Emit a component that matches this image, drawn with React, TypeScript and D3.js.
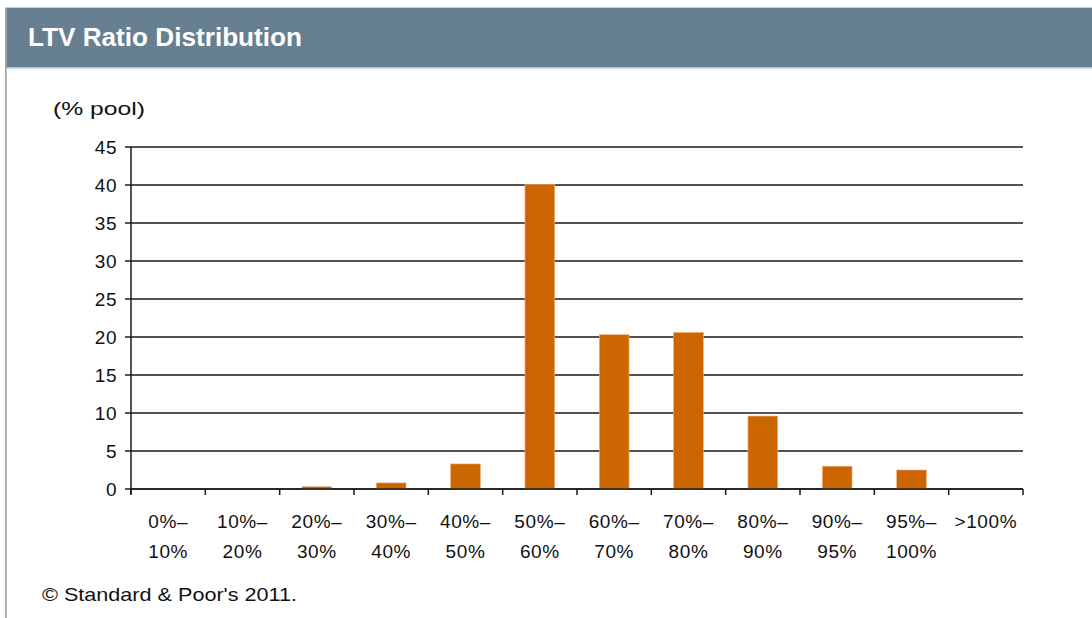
import React from 'react';
import * as d3 from 'd3';

const categories = ['0%–10%', '10%–20%', '20%–30%', '30%–40%', '40%–50%', '50%–60%', '60%–70%', '70%–80%', '80%–90%', '90%–95%', '95%–100%', '>100%'];
const labelTop = ['0%–', '10%–', '20%–', '30%–', '40%–', '50%–', '60%–', '70%–', '80%–', '90%–', '95%–', '>100%'];
const labelBottom = ['10%', '20%', '30%', '40%', '50%', '60%', '70%', '80%', '90%', '95%', '100%', ''];
const poolShare = [0, 0, 0.3, 0.8, 3.3, 40.1, 20.3, 20.6, 9.6, 3.0, 2.5, 0];
const yTicks = [0, 5, 10, 15, 20, 25, 30, 35, 40, 45];

const W = 1092;
const H = 618;
const font = 'Arial, "Liberation Sans", sans-serif';

export default function App() {
  // plot area
  const left = 131;
  const right = 1023;
  const top = 147;
  const bottom = 489;

  const x = d3.scaleBand().domain(categories).range([left, right]).paddingInner(0.6).paddingOuter(0.3);
  const xOuter = d3.scaleBand().domain(categories).range([left, right]);
  const y = d3.scaleLinear().domain([0, 45]).range([bottom, top]);

  return (
    <svg width={W} height={H} style={{ position: 'absolute', left: 0, top: 0 }} fontFamily={font}>
      <rect x={0} y={0} width={W} height={H} fill="#ffffff" />
      {/* header band */}
      <rect x={5} y={7} width={W - 5} height={1.5} fill="#c3ced6" />
      <rect x={5} y={8} width={W - 5} height={60} fill="#667f91" />
      <rect x={5} y={67} width={W - 5} height={1.5} fill="#b4c1cb" />
      <rect x={5} y={8} width={1.8} height={H - 8} fill="#9aabb8" />
      <text x={28} y={46} fill="#ffffff" fontSize={25} fontWeight="bold" textLength={274} lengthAdjust="spacingAndGlyphs">
        LTV Ratio Distribution
      </text>

      <text x={53} y={115} fontSize={19} fill="#111" textLength={92} lengthAdjust="spacingAndGlyphs">(% pool)</text>

      {/* gridlines + y labels */}
      {yTicks.map((t) => (
        <g key={t}>
          <line x1={left - 6} x2={right} y1={y(t)} y2={y(t)} stroke="#1a1a1a" strokeWidth={1.5} />
          <text x={117} y={y(t) + 7} textAnchor="end" fontSize={19} letterSpacing={0.5} fill="#111">{t}</text>
        </g>
      ))}
      <line x1={left} x2={left} y1={top} y2={bottom + 5} stroke="#1a1a1a" strokeWidth={1.5} />

      {/* x ticks */}
      {categories.map((c) => (
        <line key={c} x1={xOuter(c)!} x2={xOuter(c)!} y1={bottom} y2={bottom + 6} stroke="#1a1a1a" strokeWidth={1.5} />
      ))}
      <line x1={right} x2={right} y1={bottom} y2={bottom + 6} stroke="#1a1a1a" strokeWidth={1.5} />

      {/* bars */}
      {categories.map((c, i) =>
        poolShare[i] > 0 ? (
          <rect key={c} x={x(c)!} y={y(poolShare[i])} width={x.bandwidth()} height={bottom - y(poolShare[i])} fill="#cc6600" stroke="#f0b080" strokeWidth={0.6} />
        ) : null
      )}
      <line x1={left} x2={right} y1={bottom} y2={bottom} stroke="#1a1a1a" strokeWidth={1.5} />

      {/* category labels */}
      {categories.map((c, i) => {
        const cx = xOuter(c)! + xOuter.bandwidth() / 2;
        return (
          <g key={c}>
            <text x={cx} y={528} textAnchor="middle" fontSize={19} letterSpacing={0.6} fill="#111">{labelTop[i]}</text>
            <text x={cx} y={558} textAnchor="middle" fontSize={19} letterSpacing={0.6} fill="#111">{labelBottom[i]}</text>
          </g>
        );
      })}

      <text x={42} y={601} fontSize={19} fill="#111" textLength={255} lengthAdjust="spacingAndGlyphs">© Standard &amp; Poor's 2011.</text>
    </svg>
  );
}
